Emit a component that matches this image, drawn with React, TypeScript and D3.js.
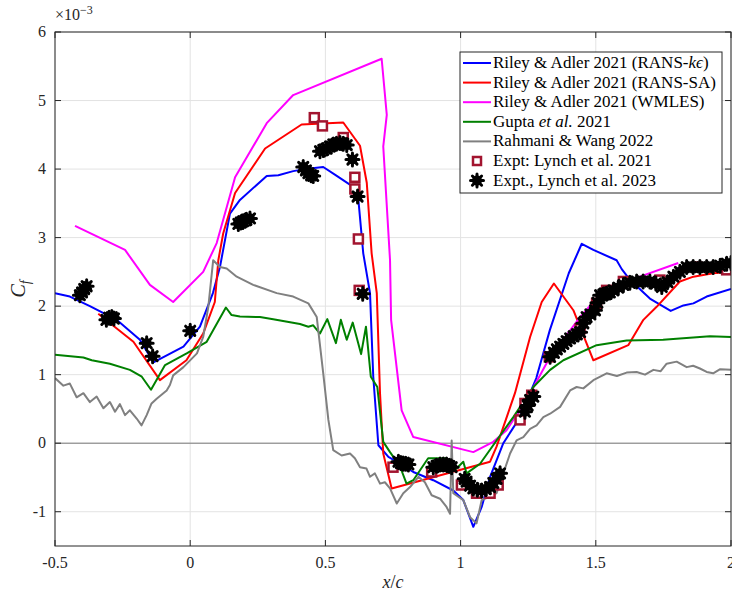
import React from 'react';
import * as d3 from 'd3';

// Riley & Adler 2021 (RANS-k-eps)
const keX = [-0.5, -0.445, -0.371, -0.272, -0.186, -0.136, -0.025, 0.036, 0.084, 0.11, 0.147, 0.184, 0.283, 0.326, 0.381, 0.443, 0.492, 0.542, 0.603, 0.622, 0.64, 0.665, 0.677, 0.696, 0.733, 0.776, 0.825, 0.899, 0.973, 1.01, 1.047, 1.078, 1.109, 1.158, 1.22, 1.28, 1.33, 1.4, 1.448, 1.491, 1.577, 1.596, 1.627, 1.7, 1.777, 1.824, 1.861, 1.91, 2.0];
const keY = [2.19, 2.14, 2.0, 1.8, 1.51, 1.18, 1.41, 1.7, 2.19, 2.57, 3.35, 3.55, 3.9, 3.91, 3.97, 4.01, 4.03, 3.9, 3.74, 3.55, 2.77, 2.19, 0.97, -0.03, -0.2, -0.3, -0.42, -0.54, -0.69, -0.83, -1.22, -0.93, -0.49, 0.0, 0.38, 0.95, 1.65, 2.48, 2.91, 2.82, 2.67, 2.54, 2.38, 2.11, 1.93, 2.01, 2.04, 2.14, 2.25];

// Riley & Adler 2021 (RANS-SA)
const saX = [-0.34, -0.21, -0.112, -0.014, 0.048, 0.091, 0.104, 0.122, 0.166, 0.277, 0.412, 0.566, 0.628, 0.653, 0.671, 0.69, 0.702, 0.714, 0.745, 1.109, 1.133, 1.201, 1.257, 1.3, 1.345, 1.417, 1.491, 1.62, 1.676, 1.725, 1.811, 1.861, 1.934, 2.0];
const saY = [1.89, 1.48, 0.92, 1.21, 1.6, 2.06, 2.67, 3.06, 3.65, 4.3, 4.65, 4.68, 4.34, 3.8, 2.77, 2.19, 0.73, -0.15, -0.66, -0.27, -0.05, 0.73, 1.55, 2.06, 2.33, 1.94, 1.21, 1.43, 1.8, 1.99, 2.36, 2.43, 2.48, 2.5];

// Riley & Adler 2021 (WMLES)
const wmX = [-0.426, -0.241, -0.149, -0.063, 0.048, 0.098, 0.166, 0.283, 0.381, 0.708, 0.727, 0.714, 0.739, 0.743, 0.782, 0.825, 1.047, 1.121, 1.17, 1.244, 1.331, 1.442, 1.491, 1.627, 1.805];
const wmY = [3.17, 2.82, 2.31, 2.06, 2.5, 2.92, 3.88, 4.67, 5.08, 5.61, 4.79, 4.33, 2.67, 1.8, 0.48, 0.09, -0.13, 0.02, 0.19, 0.63, 1.26, 1.84, 2.06, 2.38, 2.63];

// Gupta et al. 2021
const guX = [-0.5, -0.395, -0.364, -0.297, -0.223, -0.179, -0.145, -0.093, -0.013, 0.061, 0.132, 0.153, 0.184, 0.258, 0.307, 0.406, 0.437, 0.455, 0.48, 0.507, 0.539, 0.557, 0.579, 0.601, 0.632, 0.65, 0.668, 0.692, 0.714, 0.739, 0.776, 0.8, 0.825, 0.88, 0.948, 0.979, 1.01, 1.022, 1.072, 1.133, 1.195, 1.269, 1.331, 1.38, 1.503, 1.614, 1.749, 1.922, 2.0];
const guY = [1.29, 1.25, 1.21, 1.16, 1.07, 0.97, 0.78, 1.14, 1.31, 1.48, 1.98, 1.87, 1.85, 1.84, 1.81, 1.74, 1.7, 1.72, 1.6, 1.81, 1.46, 1.8, 1.51, 1.76, 1.3, 1.7, 0.97, 0.82, 0.02, -0.13, -0.34, -0.59, -0.54, -0.22, -0.22, -0.39, -0.27, -0.44, -0.3, 0.04, 0.38, 0.82, 1.07, 1.21, 1.43, 1.5, 1.51, 1.56, 1.55];

// Rahmani & Wang 2022
const rwX = [-0.5, -0.469, -0.445, -0.42, -0.395, -0.371, -0.346, -0.321, -0.297, -0.278, -0.26, -0.241, -0.223, -0.198, -0.18, -0.161, -0.143, -0.124, -0.087, -0.075, -0.063, -0.025, 0.025, 0.048, 0.067, 0.085, 0.11, 0.135, 0.172, 0.233, 0.32, 0.381, 0.437, 0.468, 0.492, 0.511, 0.529, 0.56, 0.591, 0.609, 0.628, 0.652, 0.665, 0.683, 0.702, 0.72, 0.739, 0.764, 0.788, 0.813, 0.844, 0.868, 0.893, 0.924, 0.948, 0.961, 0.967, 0.973, 1.01, 1.035, 1.059, 1.078, 1.109, 1.133, 1.158, 1.183, 1.207, 1.232, 1.257, 1.281, 1.306, 1.331, 1.368, 1.405, 1.429, 1.454, 1.491, 1.54, 1.578, 1.614, 1.651, 1.682, 1.713, 1.74, 1.762, 1.799, 1.836, 1.86, 1.885, 1.91, 1.934, 1.96, 2.0];
const rwY = [0.95, 0.84, 0.87, 0.67, 0.73, 0.6, 0.68, 0.51, 0.6, 0.46, 0.57, 0.41, 0.48, 0.36, 0.26, 0.41, 0.58, 0.65, 0.77, 0.85, 0.99, 1.11, 1.31, 1.55, 1.99, 2.67, 2.57, 2.55, 2.43, 2.31, 2.19, 2.14, 2.04, 1.84, 1.02, 0.34, -0.1, -0.18, -0.15, -0.22, -0.35, -0.37, -0.49, -0.44, -0.59, -0.57, -0.66, -0.88, -0.73, -0.64, -0.49, -0.57, -0.76, -0.81, -0.93, -1.03, 0.04, -0.73, -0.83, -1.08, -1.17, -0.83, -0.78, -0.73, -0.44, -0.15, 0.04, 0.09, 0.21, 0.26, 0.38, 0.43, 0.53, 0.77, 0.82, 0.8, 0.92, 1.02, 0.98, 1.03, 1.04, 1.0, 1.07, 1.05, 1.16, 1.19, 1.11, 1.13, 1.09, 1.04, 1.02, 1.08, 1.07];

// Expt: Lynch et al. 2021
const ly21X = [0.459, 0.489, 0.566, 0.609, 0.609, 0.622, 0.625, 0.75, 0.893, 1.003, 1.059, 1.109, 1.139, 1.22, 1.238, 1.263, 1.328, 1.442, 1.503, 1.54, 1.602, 1.737, 1.873, 1.984];
const ly21Y = [4.75, 4.63, 4.46, 3.88, 3.71, 2.98, 2.23, -0.35, -0.42, -0.61, -0.73, -0.73, -0.61, 0.34, 0.58, 0.7, 1.26, 1.67, 2.04, 2.23, 2.36, 2.38, 2.57, 2.53];

// Expt., Lynch et al. 2023
const ly23X = [-0.408, -0.4, -0.392, -0.383, -0.31, -0.3, -0.29, -0.282, -0.161, -0.139, 0.0, 0.178, 0.187, 0.196, 0.208, 0.221, 0.418, 0.428, 0.437, 0.447, 0.455, 0.48, 0.492, 0.505, 0.517, 0.529, 0.541, 0.554, 0.566, 0.579, 0.6, 0.619, 0.638, 0.77, 0.779, 0.788, 0.797, 0.807, 0.899, 0.911, 0.924, 0.936, 0.948, 0.958, 0.967, 1.015, 1.022, 1.035, 1.047, 1.062, 1.078, 1.093, 1.109, 1.121, 1.133, 1.146, 1.238, 1.248, 1.257, 1.269, 1.331, 1.345, 1.356, 1.368, 1.38, 1.392, 1.405, 1.418, 1.43, 1.442, 1.454, 1.466, 1.48, 1.497, 1.506, 1.516, 1.528, 1.54, 1.552, 1.565, 1.583, 1.602, 1.626, 1.651, 1.675, 1.7, 1.722, 1.744, 1.765, 1.787, 1.811, 1.836, 1.86, 1.885, 1.91, 1.934, 1.96, 1.984, 2.0];
const ly23Y = [2.16, 2.2, 2.25, 2.29, 1.8, 1.83, 1.84, 1.82, 1.46, 1.27, 1.64, 3.2, 3.22, 3.24, 3.26, 3.28, 4.03, 3.98, 3.94, 3.91, 3.9, 4.26, 4.28, 4.3, 4.33, 4.36, 4.37, 4.38, 4.37, 4.35, 4.14, 3.6, 2.18, -0.27, -0.29, -0.3, -0.3, -0.31, -0.35, -0.33, -0.31, -0.31, -0.31, -0.33, -0.35, -0.52, -0.56, -0.62, -0.66, -0.68, -0.69, -0.67, -0.64, -0.58, -0.52, -0.44, 0.46, 0.55, 0.63, 0.68, 1.26, 1.32, 1.37, 1.41, 1.45, 1.49, 1.53, 1.56, 1.59, 1.62, 1.75, 1.84, 1.88, 1.94, 2.05, 2.16, 2.17, 2.18, 2.2, 2.23, 2.27, 2.31, 2.34, 2.36, 2.36, 2.36, 2.33, 2.28, 2.35, 2.43, 2.5, 2.57, 2.57, 2.57, 2.57, 2.57, 2.59, 2.62, 2.63];

const xTicks = [-0.5, 0, 0.5, 1, 1.5, 2];
const xTickLabels = ['-0.5', '0', '0.5', '1', '1.5', '2'];
const yTicks = [-1, 0, 1, 2, 3, 4, 5, 6];
const yTickLabels = ['-1', '0', '1', '2', '3', '4', '5', '6'];

const lineSeries = [
  { key: 'ke', xs: keX, ys: keY, color: '#0000ff' },
  { key: 'sa', xs: saX, ys: saY, color: '#ff0000' },
  { key: 'wm', xs: wmX, ys: wmY, color: '#ff00ff' },
  { key: 'gu', xs: guX, ys: guY, color: '#008000' },
  { key: 'rw', xs: rwX, ys: rwY, color: '#808080' },
];

const W = 732;
const H = 592;
const margin = { top: 32, right: 1, bottom: 46, left: 55 };
const FONT = "'Liberation Serif', 'DejaVu Serif', serif";
const SQ = '#a2142f';

// 8-spoke asterisk used for the 2023 data
const starPath = (r) => {
  let p = '';
  for (let k = 0; k < 4; k++) {
    const a = (k * Math.PI) / 4;
    const dx = r * Math.cos(a);
    const dy = r * Math.sin(a);
    p += `M${-dx},${-dy}L${dx},${dy}`;
  }
  return p;
};

const Star = () => (
  <>
    <circle r={5} fill="#000" />
    <path d={starPath(6.5)} stroke="#000" strokeWidth={3} strokeLinecap="round" />
  </>
);

const App = () => {
  const innerW = W - margin.left - margin.right;
  const innerH = H - margin.top - margin.bottom;

  const x = d3.scaleLinear().domain([-0.5, 2]).range([0, innerW]);
  const y = d3.scaleLinear().domain([-1.5, 6]).range([innerH, 0]);

  const line = d3
    .line()
    .x((d) => x(d[0]))
    .y((d) => y(d[1]));

  const legendItems = [
    { type: 'line', color: '#0000ff', label: <>Riley &amp; Adler 2021 (RANS-<tspan fontStyle="italic">kϵ</tspan>)</> },
    { type: 'line', color: '#ff0000', label: <>Riley &amp; Adler 2021 (RANS-SA)</> },
    { type: 'line', color: '#ff00ff', label: <>Riley &amp; Adler 2021 (WMLES)</> },
    { type: 'line', color: '#008000', label: <>Gupta <tspan fontStyle="italic">et al.</tspan> 2021</> },
    { type: 'line', color: '#808080', label: <>Rahmani &amp; Wang 2022</> },
    { type: 'square', color: SQ, label: <>Expt: Lynch et al. 2021</> },
    { type: 'star', color: '#000', label: <>Expt., Lynch et al. 2023</> },
  ];

  return (
    <svg
      width={W}
      height={H}
      style={{ position: 'absolute', left: 0, top: 0, background: '#fff', fontFamily: FONT }}
    >
      <defs>
        <clipPath id="plot-clip">
          <rect x={0} y={0} width={innerW} height={innerH} />
        </clipPath>
      </defs>
      <g transform={`translate(${margin.left},${margin.top})`}>
        {/* grid */}
        {xTicks.map((t) => (
          <line key={'gx' + t} x1={x(t)} x2={x(t)} y1={0} y2={innerH} stroke="#e3e3e3" strokeWidth={1} />
        ))}
        {yTicks.map((t) => (
          <line key={'gy' + t} x1={0} x2={innerW} y1={y(t)} y2={y(t)} stroke="#e3e3e3" strokeWidth={1} />
        ))}
        {/* zero line */}
        <line x1={0} x2={innerW} y1={y(0)} y2={y(0)} stroke="#7a7a7a" strokeWidth={1} />

        <g clipPath="url(#plot-clip)">
          {lineSeries.map((s) => (
            <path
              key={s.key}
              d={line(s.xs.map((v, i) => [v, s.ys[i]]))}
              fill="none"
              stroke={s.color}
              strokeWidth={2}
              strokeLinejoin="round"
            />
          ))}
          {ly21X.map((v, i) => (
            <rect
              key={'sq' + i}
              x={x(v) - 4.5}
              y={y(ly21Y[i]) - 4.5}
              width={9}
              height={9}
              fill="#fff"
              stroke={SQ}
              strokeWidth={2.5}
            />
          ))}
          {ly23X.map((v, i) => (
            <g key={'st' + i} transform={`translate(${x(v)},${y(ly23Y[i])})`}>
              <Star />
            </g>
          ))}
        </g>

        {/* frame */}
        <rect x={0} y={0} width={innerW} height={innerH} fill="none" stroke="#262626" strokeWidth={1} />
        {xTicks.map((t) => (
          <g key={'xt' + t}>
            <line x1={x(t)} x2={x(t)} y1={innerH} y2={innerH - 6} stroke="#262626" />
            <line x1={x(t)} x2={x(t)} y1={0} y2={6} stroke="#262626" />
          </g>
        ))}
        {yTicks.map((t) => (
          <g key={'yt' + t}>
            <line x1={0} x2={6} y1={y(t)} y2={y(t)} stroke="#262626" />
            <line x1={innerW} x2={innerW - 6} y1={y(t)} y2={y(t)} stroke="#262626" />
          </g>
        ))}
        {xTicks.map((t, i) => (
          <text key={'xl' + t} x={x(t)} y={innerH + 22} textAnchor="middle" fontSize={16} fill="#262626">
            {xTickLabels[i]}
          </text>
        ))}
        {yTicks.map((t, i) => (
          <text key={'yl' + t} x={-9} y={y(t) + 5} textAnchor="end" fontSize={16} fill="#262626">
            {yTickLabels[i]}
          </text>
        ))}
        <text x={0} y={-12} fontSize={16} fill="#262626">
          ×10<tspan dy={-6} fontSize={12}>−3</tspan>
        </text>
        <text x={innerW / 2} y={innerH + 42} textAnchor="middle" fontSize={18} fill="#262626">
          <tspan fontStyle="italic">x</tspan>/<tspan fontStyle="italic">c</tspan>
        </text>
        <text
          transform={`translate(-30,${innerH / 2}) rotate(-90)`}
          textAnchor="middle"
          fontSize={20}
          fill="#262626"
          fontStyle="italic"
        >
          C<tspan dy={5} fontSize={14}>f</tspan>
        </text>

        {/* legend */}
        <g transform={`translate(${460 - margin.left},${52 - margin.top})`}>
          <rect x={0} y={0} width={262} height={141} fill="#fff" stroke="#262626" strokeWidth={1} />
          {legendItems.map((it, i) => {
            const cy = 11 + i * 19.6;
            return (
              <g key={'lg' + i} transform={`translate(0,${cy})`}>
                {it.type === 'line' && <line x1={3} x2={31} y1={0} y2={0} stroke={it.color} strokeWidth={2} />}
                {it.type === 'square' && (
                  <rect x={13} y={-4} width={8} height={8} fill="#fff" stroke={SQ} strokeWidth={2.5} />
                )}
                {it.type === 'star' && (
                  <g transform="translate(17,0)">
                    <Star />
                  </g>
                )}
                <text x={33} y={5} fontSize={17} fill="#000">
                  {it.label}
                </text>
              </g>
            );
          })}
        </g>
      </g>
    </svg>
  );
};

export default App;
